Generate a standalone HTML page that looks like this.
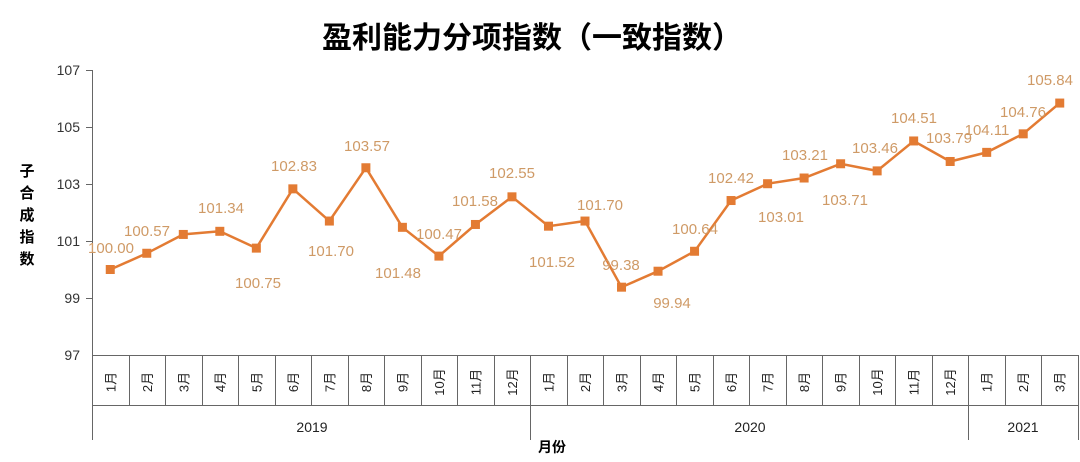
<!DOCTYPE html>
<html><head><meta charset="utf-8"><style>
body{margin:0;background:#fff;}
svg{display:block;font-family:"Liberation Sans","Noto Sans CJK SC",sans-serif;}
</style></head><body>
<svg width="1080" height="462" viewBox="0 0 1080 462" xmlns="http://www.w3.org/2000/svg">
<text x="532" y="48" text-anchor="middle" font-size="30" font-weight="bold" fill="#000" font-family="'Noto Sans CJK SC',sans-serif">盈利能力分项指数（一致指数）</text>
<g font-size="14" fill="#333" text-anchor="end">
<text x="80" y="75">107</text><text x="80" y="132">105</text><text x="80" y="189">103</text>
<text x="80" y="246">101</text><text x="80" y="303">99</text><text x="80" y="360">97</text>
</g>
<g font-size="15" font-weight="bold" fill="#000" text-anchor="middle" font-family="'Noto Sans CJK SC',sans-serif">
<text x="27" y="176">子</text><text x="27" y="198">合</text><text x="27" y="220">成</text><text x="27" y="242">指</text><text x="27" y="264">数</text>
</g>
<g stroke="#666" stroke-width="1" fill="none">
<line x1="92.5" y1="70" x2="92.5" y2="440"/>
<line x1="86" y1="70.5" x2="92" y2="70.5"/><line x1="86" y1="127.5" x2="92" y2="127.5"/><line x1="86" y1="184.5" x2="92" y2="184.5"/>
<line x1="86" y1="241.5" x2="92" y2="241.5"/><line x1="86" y1="298.5" x2="92" y2="298.5"/>
<line x1="92" y1="355.5" x2="1078" y2="355.5"/>
<line x1="92" y1="405.5" x2="1078" y2="405.5"/>
</g>
<g id="xaxis"></g>
<text x="552" y="452" text-anchor="middle" font-size="14" font-weight="bold" font-family="'Noto Sans CJK SC',sans-serif">月份</text>
<g id="plot"></g>
<script>
var v=[100.00,100.57,101.23,101.34,100.75,102.83,101.70,103.57,101.48,100.47,101.58,102.55,101.52,101.70,99.38,99.94,100.64,102.42,103.01,103.21,103.71,103.46,104.51,103.79,104.11,104.76,105.84];
var ns="http://www.w3.org/2000/svg";
function el(t,a,p,txt){var e=document.createElementNS(ns,t);for(var k in a)e.setAttribute(k,a[k]);if(txt!=null)e.textContent=txt;p.appendChild(e);return e;}
var W=(1078-92)/27;function X(i){return 92+(i+0.5)*W;}function Y(y){return 355-(y-97)*28.5;}
var xa=document.getElementById('xaxis');
var months=[1,2,3,4,5,6,7,8,9,10,11,12,1,2,3,4,5,6,7,8,9,10,11,12,1,2,3];
for(var i=0;i<=27;i++){var x=Math.round(92+i*W)+0.5;var yr=(i==0||i==12||i==24||i==27);
el('line',{x1:x,y1:355,x2:x,y2:yr?440:405,stroke:'#666'},xa);}
for(var i=0;i<27;i++){var cx=X(i)+5,cy=382;
el('text',{x:cx,y:cy,'font-size':13,'text-anchor':'middle',transform:'rotate(-90 '+cx+' '+cy+')',fill:'#222'},xa,months[i]+'月');}
el('text',{x:312,y:432,'font-size':14,'text-anchor':'middle',fill:'#222'},xa,'2019');
el('text',{x:750,y:432,'font-size':14,'text-anchor':'middle',fill:'#222'},xa,'2020');
el('text',{x:1023,y:432,'font-size':14,'text-anchor':'middle',fill:'#222'},xa,'2021');
var p=document.getElementById('plot');var d='';
for(var i=0;i<27;i++)d+=(i?'L':'M')+X(i).toFixed(1)+' '+Y(v[i]).toFixed(1);
el('path',{d:d,stroke:'#E37B33','stroke-width':2.5,fill:'none'},p);
for(var i=0;i<27;i++)el('rect',{x:X(i)-4.5,y:Y(v[i])-4.5,width:9,height:9,fill:'#E37B33'},p);
var L=[['100.00',111,253],['100.57',147,236],['101.34',221,213],['100.75',258,288],['102.83',294,171],['101.70',331,256],['103.57',367,151],['101.48',398,278],['100.47',439,239],['101.58',475,206],['102.55',512,178],['101.52',552,267],['101.70',600,210],['99.38',621,270],['99.94',672,308],['100.64',695,234],['102.42',731,183],['103.01',781,222],['103.21',805,160],['103.71',845,205],['103.46',875,153],['104.51',914,123],['103.79',949,143],['104.11',987,135],['104.76',1023,117],['105.84',1050,85]];
L.forEach(function(l){el('text',{x:l[1],y:l[2],'font-size':15,'text-anchor':'middle',fill:'#CF9A66'},p,l[0]);});
</script>
</svg>
</body></html>
